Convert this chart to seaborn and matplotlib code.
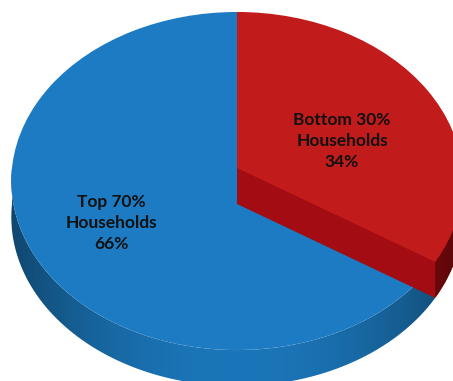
import numpy as np
import matplotlib
matplotlib.use("Agg")
import matplotlib.pyplot as plt
import seaborn as sns
from matplotlib.transforms import Transform
from matplotlib.path import Path
from matplotlib.patches import PathPatch
from matplotlib.colors import to_rgb

# Share of income by household group
groups = ["Bottom 30%\nHouseholds", "Top 70%\nHouseholds"]
shares = [34, 66]
top_colors = ["#c11b1c", "#1c7bc2"]
side_colors = ["#a30c12", "#1b76b9"]

sns.set_theme(style="white")
plt.rcParams["font.family"] = ["Lato", "DejaVu Sans"]

W, H = 453, 381
fig = plt.figure(figsize=(W / 100, H / 100), dpi=100)
ax = fig.add_axes([0, 0, 1, 1])


class Tilt(Transform):
    """Perspective view of the unit disc lying on a table, in pixel units."""
    input_dims = 2
    output_dims = 2
    is_separable = False
    has_inverse = False

    def __init__(self, cx=237.0, cy=168.0, rx=225.0, p=-155.1, r=0.077, drop=0.0):
        super().__init__()
        self.cx, self.cy, self.rx, self.p, self.r, self.drop = cx, cy, rx, p, r, drop

    def transform_non_affine(self, values):
        values = np.asarray(values, dtype=float)
        u, v = values[:, 0], values[:, 1]
        w = 1.0 + self.r * v
        x = self.cx + self.rx * u / w
        y = (self.cy + self.p * v) / w + self.drop
        return np.column_stack([x, y])


DEPTH = 36


def draw_pie(colors, drop, zorder, only=None):
    wedges, _ = ax.pie(shares, colors=colors, startangle=90, counterclock=False,
                       radius=1.0, center=(0, 0),
                       wedgeprops=dict(linewidth=0, antialiased=True))
    tr = Tilt(drop=drop) + ax.transData
    for i, w in enumerate(wedges):
        w.set_transform(tr)
        w.set_zorder(zorder)
        if only is not None and i != only:
            w.set_visible(False)
    return wedges


def rim_band(a0, a1, n=200):
    th = np.radians(np.linspace(a0, a1, n))
    ring = np.column_stack([np.cos(th), np.sin(th)])
    upper = Tilt(drop=0).transform(ring)
    lower = Tilt(drop=DEPTH).transform(ring)[::-1]
    verts = np.vstack([upper, lower, upper[:1]])
    codes = [Path.MOVETO] + [Path.LINETO] * (len(verts) - 2) + [Path.CLOSEPOLY]
    return Path(verts, codes)


def shaded_side(path, base, zorder, dark=0.6):
    xs = np.linspace(0, W, 600)
    t = np.clip((xs - 237.0) / 225.0, -1, 1)
    f = dark + (1 - dark) * (1 - t ** 2)
    rgb = np.array(to_rgb(base))
    img = np.ones((1, len(xs), 4))
    img[0, :, :3] = f[:, None] * rgb[None, :]
    im = ax.imshow(img, extent=(0, W, H, 0), aspect="auto", zorder=zorder,
                   interpolation="bilinear")
    clip = PathPatch(path, transform=ax.transData, facecolor="none", edgecolor="none")
    ax.add_patch(clip)
    im.set_clip_path(clip)


split = 90 - 360 * shares[0] / sum(shares)

# outer wall of the larger slice
shaded_side(rim_band(180, 360 + split), side_colors[1], zorder=1)
# top of the larger slice
draw_pie(top_colors, 0, zorder=2, only=1)
# the smaller slice: its body, its outer wall, then its top
for k in range(DEPTH, 0, -1):
    draw_pie(side_colors, k, zorder=3, only=0)
shaded_side(rim_band(split, 0), side_colors[0], zorder=4, dark=0.55)
draw_pie(top_colors, 0, zorder=5, only=0)

text_pos = [(342, 141), (111, 223)]
for g, s, (tx, ty) in zip(groups, shares, text_pos):
    ax.text(tx, ty, f"{g}\n{s}%", ha="center", va="center", fontsize=12.5,
            fontweight="bold", color="#111111", linespacing=1.4, zorder=6)

ax.set_aspect("auto")
ax.set_xlim(0, W)
ax.set_ylim(H, 0)
ax.axis("off")
fig.savefig("out.png", dpi=100, facecolor="white")
